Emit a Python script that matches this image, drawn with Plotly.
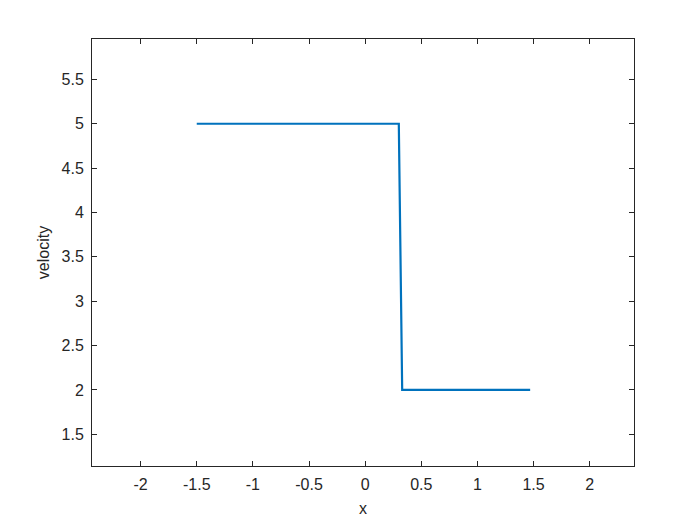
import plotly.graph_objects as go

# velocity profile (step)
x_vals = [-1.5, 0.30, 0.33, 1.47]
velocity = [5, 5, 2, 2]

x_ticks = [-2, -1.5, -1, -0.5, 0, 0.5, 1, 1.5, 2]
y_ticks = [1.5, 2, 2.5, 3, 3.5, 4, 4.5, 5, 5.5]

fig = go.Figure()
fig.add_trace(
    go.Scatter(
        x=x_vals,
        y=velocity,
        mode="lines",
        line={"color": "#0072BD", "width": 2.2},
        showlegend=False,
    )
)

axis_common = dict(
    showgrid=False,
    zeroline=False,
    showline=True,
    linecolor="#262626",
    linewidth=1,
    mirror="ticks",
    ticks="inside",
    ticklen=5,
    tickcolor="#262626",
    tickfont={"size": 16, "color": "#262626"},
)

fig.update_xaxes(
    range=[-2.433, 2.395],
    tickvals=x_ticks,
    ticktext=[f"{v:g}" for v in x_ticks],
    ticklabelstandoff=4,
    title={"text": "x", "font": {"size": 16, "color": "#262626"}, "standoff": 10},
    **axis_common,
)
fig.update_yaxes(
    range=[1.143, 5.955],
    tickvals=y_ticks,
    ticktext=[f"{v:g}" for v in y_ticks],
    ticklabelstandoff=4,
    title={"text": "velocity", "font": {"size": 16, "color": "#262626"}, "standoff": 7},
    **axis_common,
)

fig.update_layout(
    width=700,
    height=525,
    paper_bgcolor="white",
    plot_bgcolor="white",
    font={"family": "Liberation Sans, Arial, sans-serif"},
    margin={"l": 84, "r": 74, "t": 31, "b": 67},
)

fig.write_html("out.html")
